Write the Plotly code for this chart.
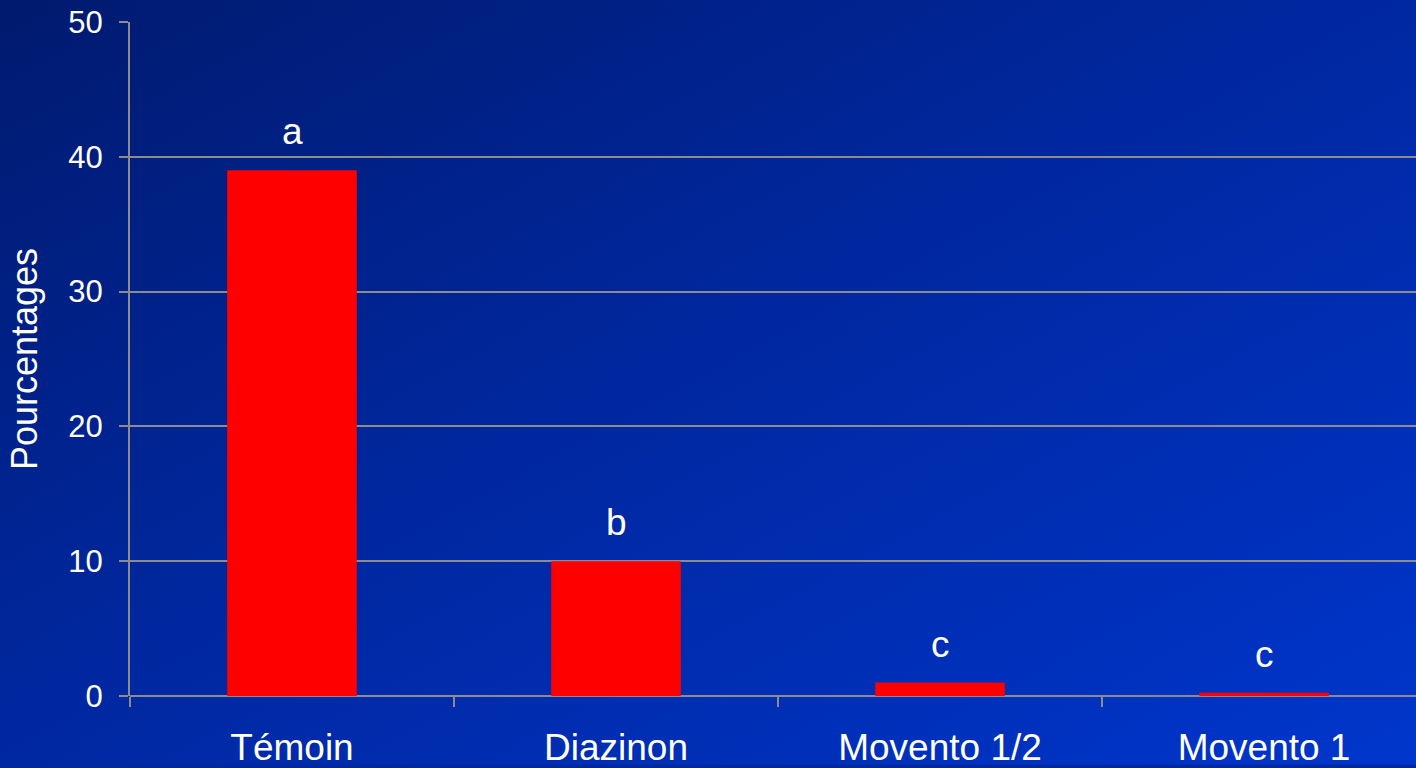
import plotly.graph_objects as go

categories = ["Témoin", "Diazinon", "Movento 1/2", "Movento 1"]
values = [39, 10, 1, 0.25]
letters = ["a", "b", "c", "c"]
y_ticks = [0, 10, 20, 30, 40, 50]

W, H = 1416, 768
ML, MR, MT, MB = 130, 0, 22, 69

svg = (
    "<svg xmlns='http://www.w3.org/2000/svg' width='1416' height='768'>"
    "<defs><linearGradient id='g' x1='0' y1='0' x2='1' y2='1'>"
    "<stop offset='0' stop-color='%23001a6e'/>"
    "<stop offset='0.5' stop-color='%230028a2'/>"
    "<stop offset='1' stop-color='%230036cc'/>"
    "</linearGradient></defs>"
    "<rect width='1416' height='768' fill='url(%23g)'/></svg>"
)
src = "data:image/svg+xml;utf8," + svg.replace("<", "%3C").replace(">", "%3E")

pw = W - ML - MR
ph = H - MT - MB

fig = go.Figure()
fig.add_trace(go.Bar(
    x=categories, y=values,
    marker=dict(color="#ff0000", line=dict(width=0)),
    width=0.4,
    hoverinfo="skip",
))

for c, v, l in zip(categories, values, letters):
    fig.add_annotation(
        x=c, y=v, text=l, showarrow=False, yanchor="bottom", yshift=16,
        font=dict(family="Liberation Sans, Arial", size=37, color="white"),
    )

fig.add_layout_image(dict(
    source=src, xref="paper", yref="paper",
    x=-ML / pw, y=1 + MT / ph, sizex=W / pw, sizey=H / ph,
    xanchor="left", yanchor="top", sizing="stretch", layer="below",
))

fig.update_layout(
    width=W, height=H,
    margin=dict(l=ML, r=MR, t=MT, b=MB, pad=0),
    paper_bgcolor="#0028a2",
    plot_bgcolor="rgba(0,0,0,0)",
    showlegend=False,
    font=dict(family="Liberation Sans, Arial", color="white"),
    xaxis=dict(
        range=[-0.5, 3.469],
        tickson="boundaries",
        ticks="outside", ticklen=10, tickwidth=2, tickcolor="#8c8c8c",
        showgrid=False, showline=False, zeroline=False,
        tickfont=dict(size=37, color="white"),
        ticklabelstandoff=26,
    ),
    yaxis=dict(
        range=[0, 50], tickvals=y_ticks,
        ticks="outside", ticklen=9, tickwidth=2, tickcolor="#8c8c8c",
        showgrid=True, gridcolor="#8c8c8c", gridwidth=2,
        showline=True, linecolor="#8c8c8c", linewidth=2,
        zeroline=True, zerolinecolor="#8c8c8c", zerolinewidth=2,
        tickfont=dict(size=31, color="white"),
        ticklabelstandoff=10,
        title=dict(text="Pourcentages", font=dict(size=36, color="white"), standoff=20),
    ),
)

fig.write_html(
    "out.html",
    config={"displayModeBar": False},
    post_script="document.body.style.margin='0';document.body.style.overflow='hidden';",
)
